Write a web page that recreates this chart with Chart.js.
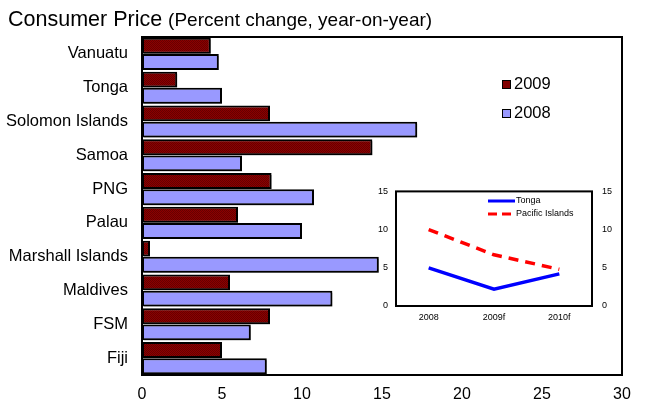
<!DOCTYPE html>
<html>
<head>
<meta charset="utf-8">
<script src="https://cdn.jsdelivr.net/npm/chart.js@4.4.1/dist/chart.umd.min.js"></script>
<style>
body { margin: 0; background: #fff; font-family: Arial, "Liberation Sans", sans-serif; }
#wrap { position: relative; width: 647px; height: 402px; overflow: hidden; }
#title { position: absolute; left: 8px; top: 9px; font-size: 21.5px; line-height: 21px; white-space: nowrap; }
#title span { font-size: 19px; }
.lg { position: absolute; left: 502px; font-size: 16.5px; line-height: 16px; white-space: nowrap; }
.lg i { display: inline-block; width: 7px; height: 7px; border: 1.5px solid #000; margin-right: 3px; vertical-align: 0px; }
#inset { position: absolute; left: 360px; top: 176px; }
.ilg { position: absolute; left: 488px; font-size: 9px; line-height: 10px; white-space: nowrap; }
.ilg svg { vertical-align: middle; margin-right: 1px; }
</style>
</head>
<body>
<div id="wrap">
  <canvas id="main" width="647" height="402"></canvas>
  <div id="title">Consumer Price <span>(Percent change, year-on-year)</span></div>
  <div class="lg" style="top:75px"><i style="background:#800000"></i>2009</div>
  <div class="lg" style="top:104px"><i style="background:#9999ff"></i>2008</div>
  <canvas id="inset" width="262" height="150"></canvas>
  <div class="ilg" style="top:195px"><svg width="27" height="4"><line x1="0" y1="2" x2="27" y2="2" stroke="#0000ff" stroke-width="3"/></svg>Tonga</div>
  <div class="ilg" style="top:208px"><svg width="27" height="4"><line x1="0" y1="2" x2="27" y2="2" stroke="#ff0000" stroke-width="3" stroke-dasharray="9,5"/></svg>Pacific Islands</div>
</div>
<script>
var countries = ['Vanuatu', 'Tonga', 'Solomon Islands', 'Samoa', 'PNG', 'Palau', 'Marshall Islands', 'Maldives', 'FSM', 'Fiji'];
var cpi2009 = [4.3, 2.2, 8.0, 14.4, 8.1, 6.0, 0.5, 5.5, 8.0, 5.0];
var cpi2008 = [4.8, 5.0, 17.2, 6.25, 10.75, 10.0, 14.8, 11.9, 6.8, 7.8];
var insetYears = ['2008', '2009f', '2010f'];
var tonga = [5.0, 2.2, 4.2];
var pacific = [10.0, 6.7, 4.8];

Chart.defaults.font.family = 'Arial, "Liberation Sans", sans-serif';
Chart.defaults.color = '#000';

// small dark red texture for the 2009 bars
function hatch() {
    var c = document.createElement('canvas');
    c.width = 2; c.height = 2;
    var g = c.getContext('2d');
    g.fillStyle = '#8c0000';
    g.fillRect(0, 0, 2, 2);
    g.fillStyle = '#660000';
    g.fillRect(0, 0, 1, 1);
    g.fillRect(1, 1, 1, 1);
    return g.createPattern(c, 'repeat');
}

// black box round the plot area
var frame = {
    id: 'frame',
    afterDraw: function (chart) {
        var a = chart.chartArea, g = chart.ctx;
        g.save();
        g.lineWidth = 2;
        g.strokeStyle = '#000';
        g.strokeRect(a.left, a.top, a.right - a.left, a.bottom - a.top);
        g.restore();
    }
};

// grey drop shadow under the bars
var shadow = {
    id: 'shadow',
    beforeDatasetsDraw: function (chart) {
        var g = chart.ctx;
        g.save();
        g.shadowColor = 'rgba(0,0,0,0.4)';
        g.shadowOffsetX = 2;
        g.shadowOffsetY = 2;
        g.shadowBlur = 0;
    },
    afterDatasetsDraw: function (chart) {
        chart.ctx.restore();
    }
};

new Chart(document.getElementById('main').getContext('2d'), {
    type: 'bar',
    data: {
        labels: countries,
        datasets: [{
            label: '2009',
            data: cpi2009,
            backgroundColor: hatch(),
            borderColor: '#000',
            borderWidth: 2,
            borderSkipped: false,
            categoryPercentage: 0.96,
            barPercentage: 0.98
        }, {
            label: '2008',
            data: cpi2008,
            backgroundColor: '#9999ff',
            borderColor: '#000',
            borderWidth: 2,
            borderSkipped: false,
            categoryPercentage: 0.96,
            barPercentage: 0.98
        }]
    },
    options: {
        indexAxis: 'y',
        responsive: false,
        animation: false,
        layout: { padding: { top: 37, right: 25, left: 0, bottom: 0 } },
        plugins: { legend: { display: false }, tooltip: { enabled: false } },
        scales: {
            x: {
                min: 0, max: 30,
                ticks: { stepSize: 5, padding: 10, font: { size: 16 } },
                grid: { display: false, drawTicks: false },
                border: { display: false },
                afterFit: function (s) { s.height = 27; }
            },
            y: {
                ticks: { padding: 14, font: { size: 16.5 } },
                grid: { display: false, drawTicks: false },
                border: { display: false },
                afterFit: function (s) { s.width = 142; }
            }
        }
    },
    plugins: [shadow, frame]
});

new Chart(document.getElementById('inset').getContext('2d'), {
    type: 'line',
    data: {
        labels: insetYears,
        datasets: [{
            label: 'Tonga',
            data: tonga,
            borderColor: '#0000ff',
            borderWidth: 3.5,
            pointRadius: 0,
            tension: 0,
            yAxisID: 'y'
        }, {
            label: 'Pacific Islands',
            data: pacific,
            borderColor: '#ff0000',
            borderWidth: 3.5,
            borderDash: [10, 7],
            pointRadius: 0,
            tension: 0,
            yAxisID: 'y'
        }]
    },
    options: {
        responsive: false,
        animation: false,
        layout: { padding: { top: 10, right: 0, left: 0, bottom: 0 } },
        plugins: { legend: { display: false }, tooltip: { enabled: false } },
        scales: {
            x: {
                offset: true,
                ticks: { padding: 6, font: { size: 9 } },
                grid: { display: false, drawTicks: false },
                border: { display: false },
                afterFit: function (s) { s.height = 20; }
            },
            y: {
                min: 0, max: 15,
                ticks: { stepSize: 5, padding: 8, font: { size: 9 } },
                grid: { display: false, drawTicks: false },
                border: { display: false },
                afterFit: function (s) { s.width = 36; }
            },
            y2: {
                position: 'right',
                min: 0, max: 15,
                ticks: { stepSize: 5, padding: 10, font: { size: 9 } },
                grid: { display: false, drawTicks: false },
                border: { display: false },
                afterFit: function (s) { s.width = 30; }
            }
        }
    },
    plugins: [frame]
});
</script>
</body>
</html>
